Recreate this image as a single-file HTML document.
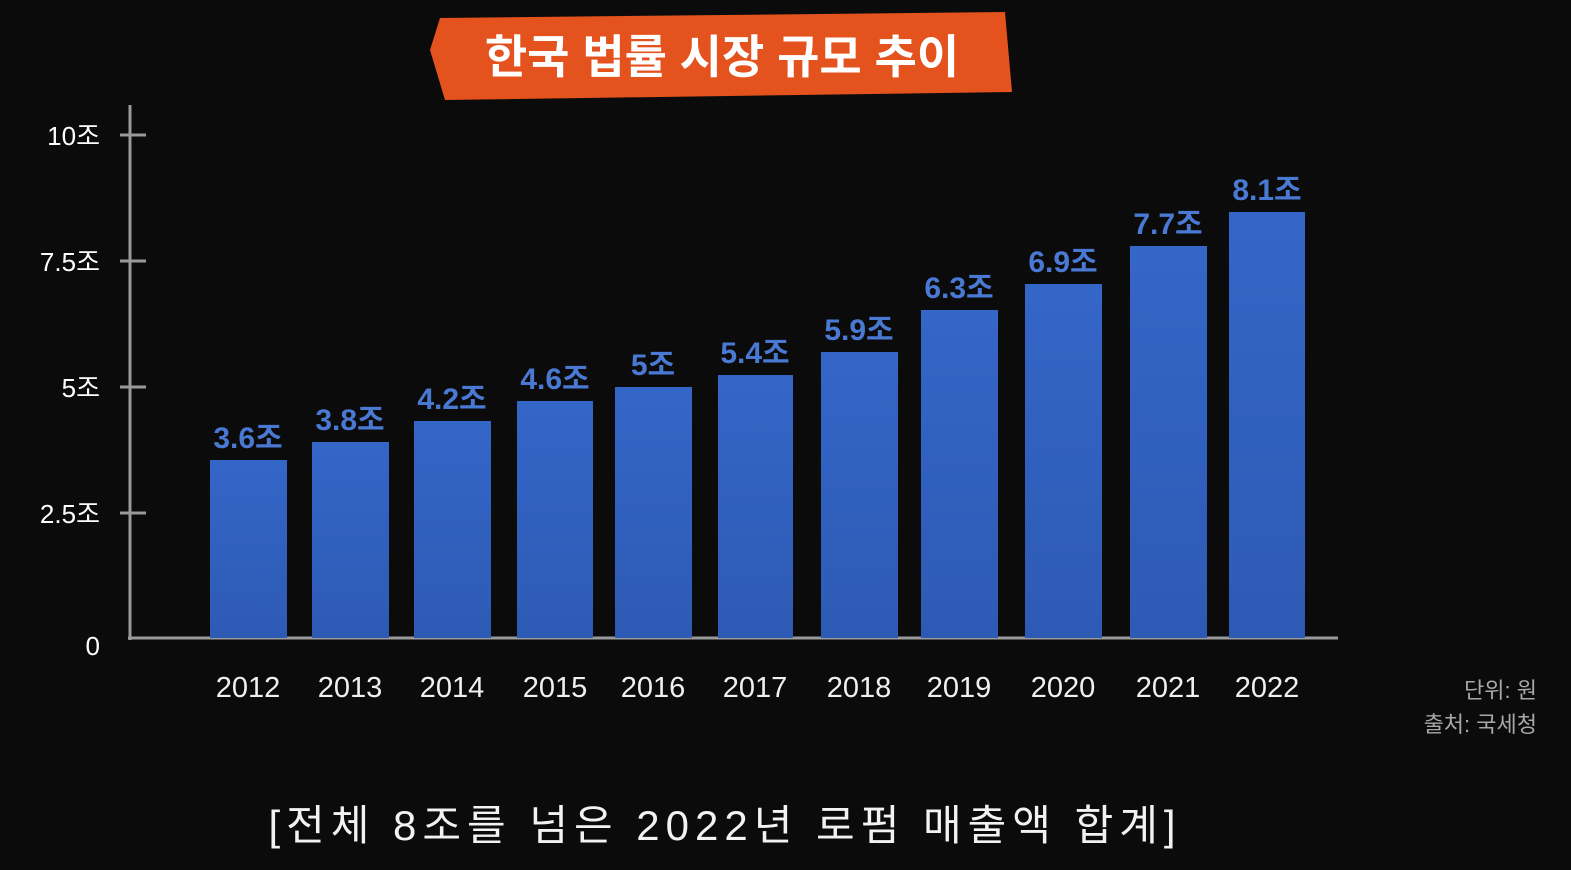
<!DOCTYPE html>
<html><head><meta charset="utf-8"><style>
html,body{margin:0;padding:0;background:#0b0b0b;}
svg{display:block;}
text{font-family:"Liberation Sans","Noto Sans CJK KR",sans-serif;}
</style></head><body>
<svg width="1571" height="870" viewBox="0 0 1571 870" xmlns="http://www.w3.org/2000/svg">
<defs>
<linearGradient id="g" x1="0" y1="0" x2="0" y2="1"><stop offset="0" stop-color="#3466c8"/><stop offset="1" stop-color="#2d5ab4"/></linearGradient>
</defs>
<rect width="1571" height="870" fill="#0b0b0b"/>
<path d="M440 18 L1005 12 L1012 92 L445 100 L430 50 Z" fill="#e4521d"/>
<text x="722" y="73" font-size="46" font-weight="bold" fill="#fff" text-anchor="middle">한국 법률 시장 규모 추이</text>
<g stroke="#9a9a9a" stroke-width="3" fill="none">
<line x1="130" y1="105" x2="130" y2="640"/>
<line x1="128" y1="638" x2="1338" y2="638"/>
<line x1="120" y1="135" x2="146" y2="135"/>
<line x1="120" y1="261" x2="146" y2="261"/>
<line x1="120" y1="387" x2="146" y2="387"/>
<line x1="120" y1="513" x2="146" y2="513"/>
</g>
<g font-size="26" fill="#fff" text-anchor="end">
<text x="100" y="145">10조</text>
<text x="100" y="271">7.5조</text>
<text x="100" y="397">5조</text>
<text x="100" y="523">2.5조</text>
<text x="100" y="655">0</text>
</g>
<g fill="url(#g)">
<rect x="210" y="460" width="77" height="178"/>
<rect x="312" y="442" width="77" height="196"/>
<rect x="414" y="421" width="77" height="217"/>
<rect x="517" y="401" width="76" height="237"/>
<rect x="615" y="387" width="77" height="251"/>
<rect x="718" y="375" width="75" height="263"/>
<rect x="821" y="352" width="77" height="286"/>
<rect x="921" y="310" width="77" height="328"/>
<rect x="1025" y="284" width="77" height="354"/>
<rect x="1130" y="246" width="77" height="392"/>
<rect x="1229" y="212" width="76" height="426"/>
</g>
<g font-size="30" font-weight="bold" fill="#4a79d4" text-anchor="middle">
<text x="248" y="448">3.6조</text>
<text x="350" y="430">3.8조</text>
<text x="452" y="409">4.2조</text>
<text x="555" y="389">4.6조</text>
<text x="653" y="375">5조</text>
<text x="755" y="363">5.4조</text>
<text x="859" y="340">5.9조</text>
<text x="959" y="298">6.3조</text>
<text x="1063" y="272">6.9조</text>
<text x="1168" y="234">7.7조</text>
<text x="1267" y="200">8.1조</text>
</g>
<g font-size="29" fill="#f0f0f0" text-anchor="middle">
<text x="248" y="697">2012</text>
<text x="350" y="697">2013</text>
<text x="452" y="697">2014</text>
<text x="555" y="697">2015</text>
<text x="653" y="697">2016</text>
<text x="755" y="697">2017</text>
<text x="859" y="697">2018</text>
<text x="959" y="697">2019</text>
<text x="1063" y="697">2020</text>
<text x="1168" y="697">2021</text>
<text x="1267" y="697">2022</text>
</g>
<g font-size="22" fill="#a8a8a8" text-anchor="end">
<text x="1537" y="698">단위: 원</text>
<text x="1537" y="732">출처: 국세청</text>
</g>
<text x="725" y="840" font-size="42" fill="#f2f2f2" text-anchor="middle" letter-spacing="6">[전체 8조를 넘은 2022년 로펌 매출액 합계]</text>
</svg>
</body></html>
